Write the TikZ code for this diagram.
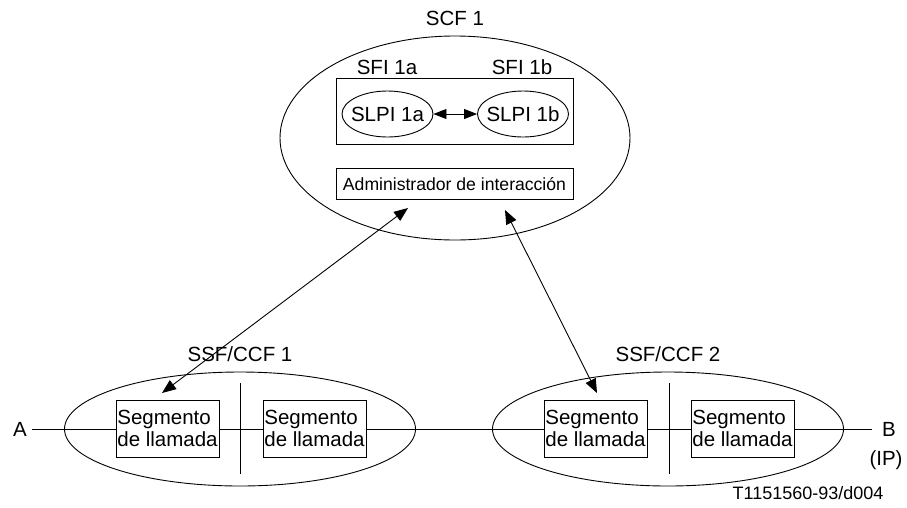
\documentclass[tikz,border=0pt]{standalone}
\usepackage{fontspec}
\setmainfont{Liberation Sans}
\usetikzlibrary{shapes.geometric,arrows.meta}
\begin{document}
\begin{tikzpicture}[x=1pt,y=-1pt,
  lw/.style={line width=0.9pt},
  txt/.style={font=\fontsize{20.5}{22}\selectfont, inner sep=0pt},
  oval/.style={draw, lw, ellipse, inner sep=0pt},
  slpi/.style={draw, lw, ellipse, inner xsep=-5pt, inner ysep=0pt, minimum width=91pt, minimum height=46pt, font=\fontsize{20.5}{22}\selectfont},
  segbox/.style={draw, lw, rectangle, minimum width=103pt, minimum height=57pt, inner sep=0pt, align=left, font=\fontsize{20.5}{22}\selectfont},
  arr/.style={lw, {Triangle[length=14pt,width=11pt]}-{Triangle[length=14pt,width=11pt]}},
  sarr/.style={lw, {Triangle[length=13pt,width=10pt]}-{Triangle[length=13pt,width=10pt]}}
]
\useasboundingbox (0,0) rectangle (907,507);
% SCF
\node[oval, minimum width=350pt, minimum height=204pt] (scf) at (455,138) {};
\node[txt] (scflab) at (455,18) {SCF 1};
\node[draw, lw, minimum width=237pt, minimum height=66pt, inner sep=0pt] (sfi) at (454.5,111) {};
\node[txt] (sfia) at (387,67) {SFI 1a};
\node[txt] (sfib) at (522,67) {SFI 1b};
\node[slpi] (slpia) at (387.5,114) {SLPI 1a};
\node[slpi] (slpib) at (523,114) {SLPI 1b};
\draw[sarr] (slpia) -- (slpib);
\node[draw, lw, minimum width=237pt, minimum height=31pt, inner sep=0pt, font=\fontsize{17.6}{20}\selectfont] (admin) at (454.5,184) {Administrador de interacción};
% SSF/CCF 1
\node[oval, minimum width=351pt, minimum height=114pt] (ssfa) at (240,429) {};
\node[txt] (ssfalab) at (240,354) {SSF/CCF 1};
\coordinate (dat) at (240,383);
\coordinate (dab) at (240,474);
\draw[lw] (dat) -- (dab);
\node[segbox] (s1) at (167.5,428.5) {Segmento\\de llamada};
\node[segbox] (s2) at (314.5,428.5) {Segmento\\de llamada};
% SSF/CCF 2
\node[oval, minimum width=351pt, minimum height=114pt] (ssfb) at (668,429) {};
\node[txt] (ssfblab) at (668,354) {SSF/CCF 2};
\coordinate (dbt) at (669,383);
\coordinate (dbb) at (669,474);
\draw[lw] (dbt) -- (dbb);
\node[segbox] (s3) at (595.5,428.5) {Segmento\\de llamada};
\node[segbox] (s4) at (742.5,428.5) {Segmento\\de llamada};
% line
\node[txt] (A) at (20,429) {A};
\coordinate (Aend) at (32,429);
\coordinate (Bend) at (872,429);
\node[txt] (B) at (889,429) {B};
\node[txt] (IP) at (886,460) {(IP)};
\draw[lw] (Aend) -- (s1.west |- Aend);
\draw[lw] (s1.east |- Aend) -- (s2.west |- Aend);
\draw[lw] (s2.east |- Aend) -- (s3.west |- Aend);
\draw[lw] (s3.east |- Aend) -- (s4.west |- Aend);
\draw[lw] (s4.east |- Aend) -- (Bend);
% interaction arrows
\coordinate (a1s) at (408,208);
\coordinate (a1e) at (162,393);
\coordinate (a2s) at (505,210);
\coordinate (a2e) at (597,393);
\draw[arr] (a1s) -- (a1e);
\draw[arr] (a2s) -- (a2e);
\node[font=\fontsize{18}{20}\selectfont, inner sep=0pt] (ref) at (808,493) {T1151560-93/d004};
\end{tikzpicture}
\end{document}
